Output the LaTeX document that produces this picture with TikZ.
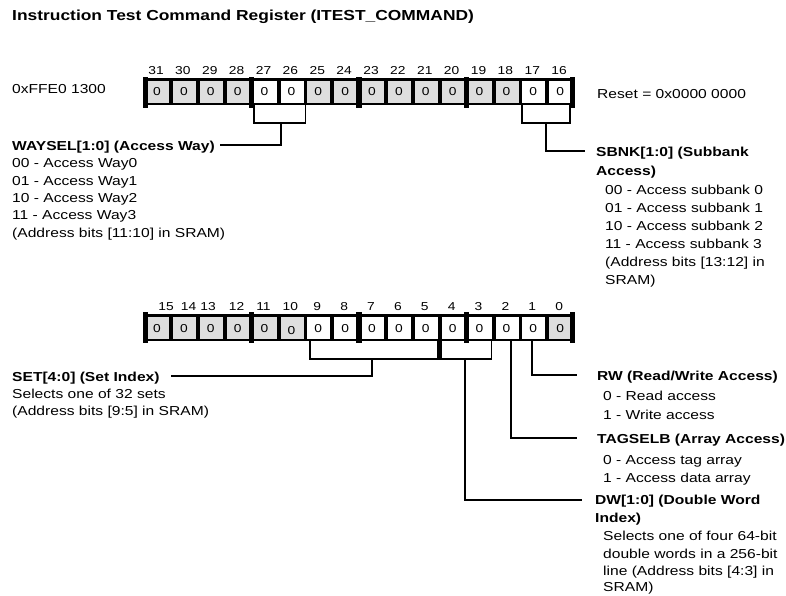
\documentclass[tikz,border=0pt]{standalone}
\usepackage{fontspec}
\setmainfont{Liberation Sans}[FakeStretch=1.2]
\usetikzlibrary{calc}
\definecolor{cellgray}{RGB}{222,222,222}
\tikzset{
  txt/.style={anchor=base west, inner sep=0pt, font=\fontsize{13}{15}\selectfont},
  lbl/.style={anchor=base west, inner sep=0pt, font=\fontsize{13}{15}\selectfont\bfseries},
  ttl/.style={anchor=base west, inner sep=0pt, font=\fontsize{14.5}{17}\selectfont\bfseries},
  bitnum/.style={anchor=base, inner sep=0pt, font=\fontsize{11.5}{13}\selectfont},
  cellval/.style={anchor=base, inner sep=0pt, font=\fontsize{11.5}{13}\selectfont},
  conn/.style={line width=1.8pt, line join=miter},
  groupbar/.style={fill=black},
}
\begin{document}
\begin{tikzpicture}[x=1pt,y=-1pt]
\useasboundingbox (0,0) rectangle (786,595);

% title and address
\node[ttl] (title) at (12,20) {Instruction Test Command Register (ITEST\_COMMAND)};
\node[txt] (addr) at (12,93) {0xFFE0 1300};
\node[txt] (reset) at (597,98) {Reset = 0x0000 0000};

% ---------- upper register (bits 31..16) ----------
\fill (144,78) rectangle (574,105);
\foreach \i/\c in {0/cellgray,1/cellgray,2/cellgray,3/cellgray,4/white,5/white,6/cellgray,7/cellgray,8/cellgray,9/cellgray,10/cellgray,11/cellgray,12/cellgray,13/cellgray,14/white,15/white}{
  \pgfmathsetmacro\xl{144+\i*26.875}
  \pgfmathtruncatemacro\b{31-\i}
  \fill[\c] (\xl+2.2,80.5) rectangle (\xl+25.2,102.5);
  \node[cellval] (v\b) at (\xl+13,95) {0};
  \node[bitnum] (n\b) at (\xl+12,74) {\b};
}
\foreach \a/\z in {142.5/148,248.8/254.2,356.3/361.7,463.8/469.2,569.5/574.5}{
  \fill[groupbar] (\a,77) rectangle (\z,108);
}

% ---------- lower register (bits 15..0) ----------
\fill (144,314) rectangle (574,341);
\foreach \i/\c in {0/cellgray,1/cellgray,2/cellgray,3/cellgray,4/cellgray,5/cellgray,6/white,7/white,8/white,9/white,10/white,11/white,12/white,13/white,14/white,15/cellgray}{
  \pgfmathsetmacro\xl{144+\i*26.875}
  \pgfmathtruncatemacro\b{15-\i}
  \fill[\c] (\xl+2.2,316.5) rectangle (\xl+25.2,338.5);
}
\foreach \i in {0,1,2,3,4,6,7,8,9,10,11,12,13,14,15}{
  \pgfmathsetmacro\xl{144+\i*26.875}
  \pgfmathtruncatemacro\b{15-\i}
  \node[cellval] (w\b) at (\xl+13,332) {0};
}
\node[cellval] (w10) at (144+5*26.875+13,334) {0};
\foreach \i in {3,4,5,6,7,8,9,10,11,12,13,14,15}{
  \pgfmathsetmacro\xl{144+\i*26.875}
  \pgfmathtruncatemacro\b{15-\i}
  \node[bitnum] (m\b) at (\xl+12,310) {\b};
}
\node[bitnum] (m15) at (166,310) {15};
\node[bitnum] (m14) at (188.5,310) {14};
\node[bitnum] (m13) at (208,310) {13};
\foreach \a/\z in {142.5/148,248.8/254.2,356.3/361.7,463.8/469.2,569.5/574.5}{
  \fill[groupbar] (\a,312) rectangle (\z,343);
}

% ---------- WAYSEL ----------
\node[lbl] (way) at (12,150) {WAYSEL[1:0] (Access Way)};
\node[txt] (way0) at (12,167.5) {00 - Access Way0};
\node[txt] (way1) at (12,185) {01 - Access Way1};
\node[txt] (way2) at (12,202.3) {10 - Access Way2};
\node[txt] (way3) at (12,219.7) {11 - Access Way3};
\node[txt] (way4) at (12,237) {(Address bits [11:10] in SRAM)};
\coordinate (wayL) at (254,105);
\coordinate (wayR) at (305.5,105);
\coordinate (wayM) at (281,123);
\draw[conn] (wayL) -- (254,123) -- (305.5,123) -- (wayR);
\draw[conn] (wayM) |- ([xshift=5pt,yshift=4.7pt]way.base east);

% ---------- SBNK ----------
\node[lbl] (sbnk) at (596,156) {SBNK[1:0] (Subbank};
\node[lbl] (sbnkb) at (596,175) {Access)};
\node[txt] (sb0) at (605,194) {00 - Access subbank 0};
\node[txt] (sb1) at (605,212) {01 - Access subbank 1};
\node[txt] (sb2) at (605,230) {10 - Access subbank 2};
\node[txt] (sb3) at (605,248) {11 - Access subbank 3};
\node[txt] (sb4) at (605,266) {(Address bits [13:12] in};
\node[txt] (sb5) at (605,284) {SRAM)};
\coordinate (sbL) at (522,105);
\coordinate (sbR) at (570,105);
\coordinate (sbM) at (546,123);
\draw[conn] (sbL) -- (522,123) -- (570,123) -- (sbR);
\draw[conn] (sbM) |- ([xshift=-11pt,yshift=4.7pt]sbnk.base west);

% ---------- SET / DW bracket ----------
\coordinate (setL) at (310,341);
\coordinate (dwR) at (491.5,341);
\draw[conn] (setL) -- (310,359) -- (491.5,359) -- (dwR);
\fill (437,341) rectangle (442,360);
\coordinate (setM) at (372,359);
\coordinate (dwM) at (465,359);

\node[lbl] (set) at (12,381) {SET[4:0] (Set Index)};
\node[txt] (set1) at (12,398) {Selects one of 32 sets};
\node[txt] (set2) at (12,415) {(Address bits [9:5] in SRAM)};
\draw[conn] (setM) |- ([xshift=11pt,yshift=4.7pt]set.base east);

% ---------- RW ----------
\node[lbl] (rw) at (597,380) {RW (Read/Write Access)};
\node[txt] (rw0) at (603,400.5) {0 - Read access};
\node[txt] (rw1) at (603,419) {1 - Write access};
\coordinate (rwT) at (532,341);
\draw[conn] (rwT) |- ([xshift=-20pt,yshift=4.7pt]rw.base west);

% ---------- TAGSELB ----------
\node[lbl] (tag) at (597,443) {TAGSELB (Array Access)};
\node[txt] (tag0) at (603,464.5) {0 - Access tag array};
\node[txt] (tag1) at (603,482.5) {1 - Access data array};
\coordinate (tagT) at (511,341);
\draw[conn] (tagT) |- ([xshift=-20pt,yshift=4.7pt]tag.base west);

% ---------- DW ----------
\node[lbl] (dw) at (595,504.5) {DW[1:0] (Double Word};
\node[lbl] (dwb) at (595,522.5) {Index)};
\node[txt] (dw1) at (603,540.5) {Selects one of four 64-bit};
\node[txt] (dw2) at (603,558) {double words in a 256-bit};
\node[txt] (dw3) at (603,575) {line (Address bits [4:3] in};
\node[txt] (dw4) at (603,591) {SRAM)};
\draw[conn] (dwM) |- ([xshift=-13pt,yshift=4.7pt]dw.base west);

\end{tikzpicture}
\end{document}
